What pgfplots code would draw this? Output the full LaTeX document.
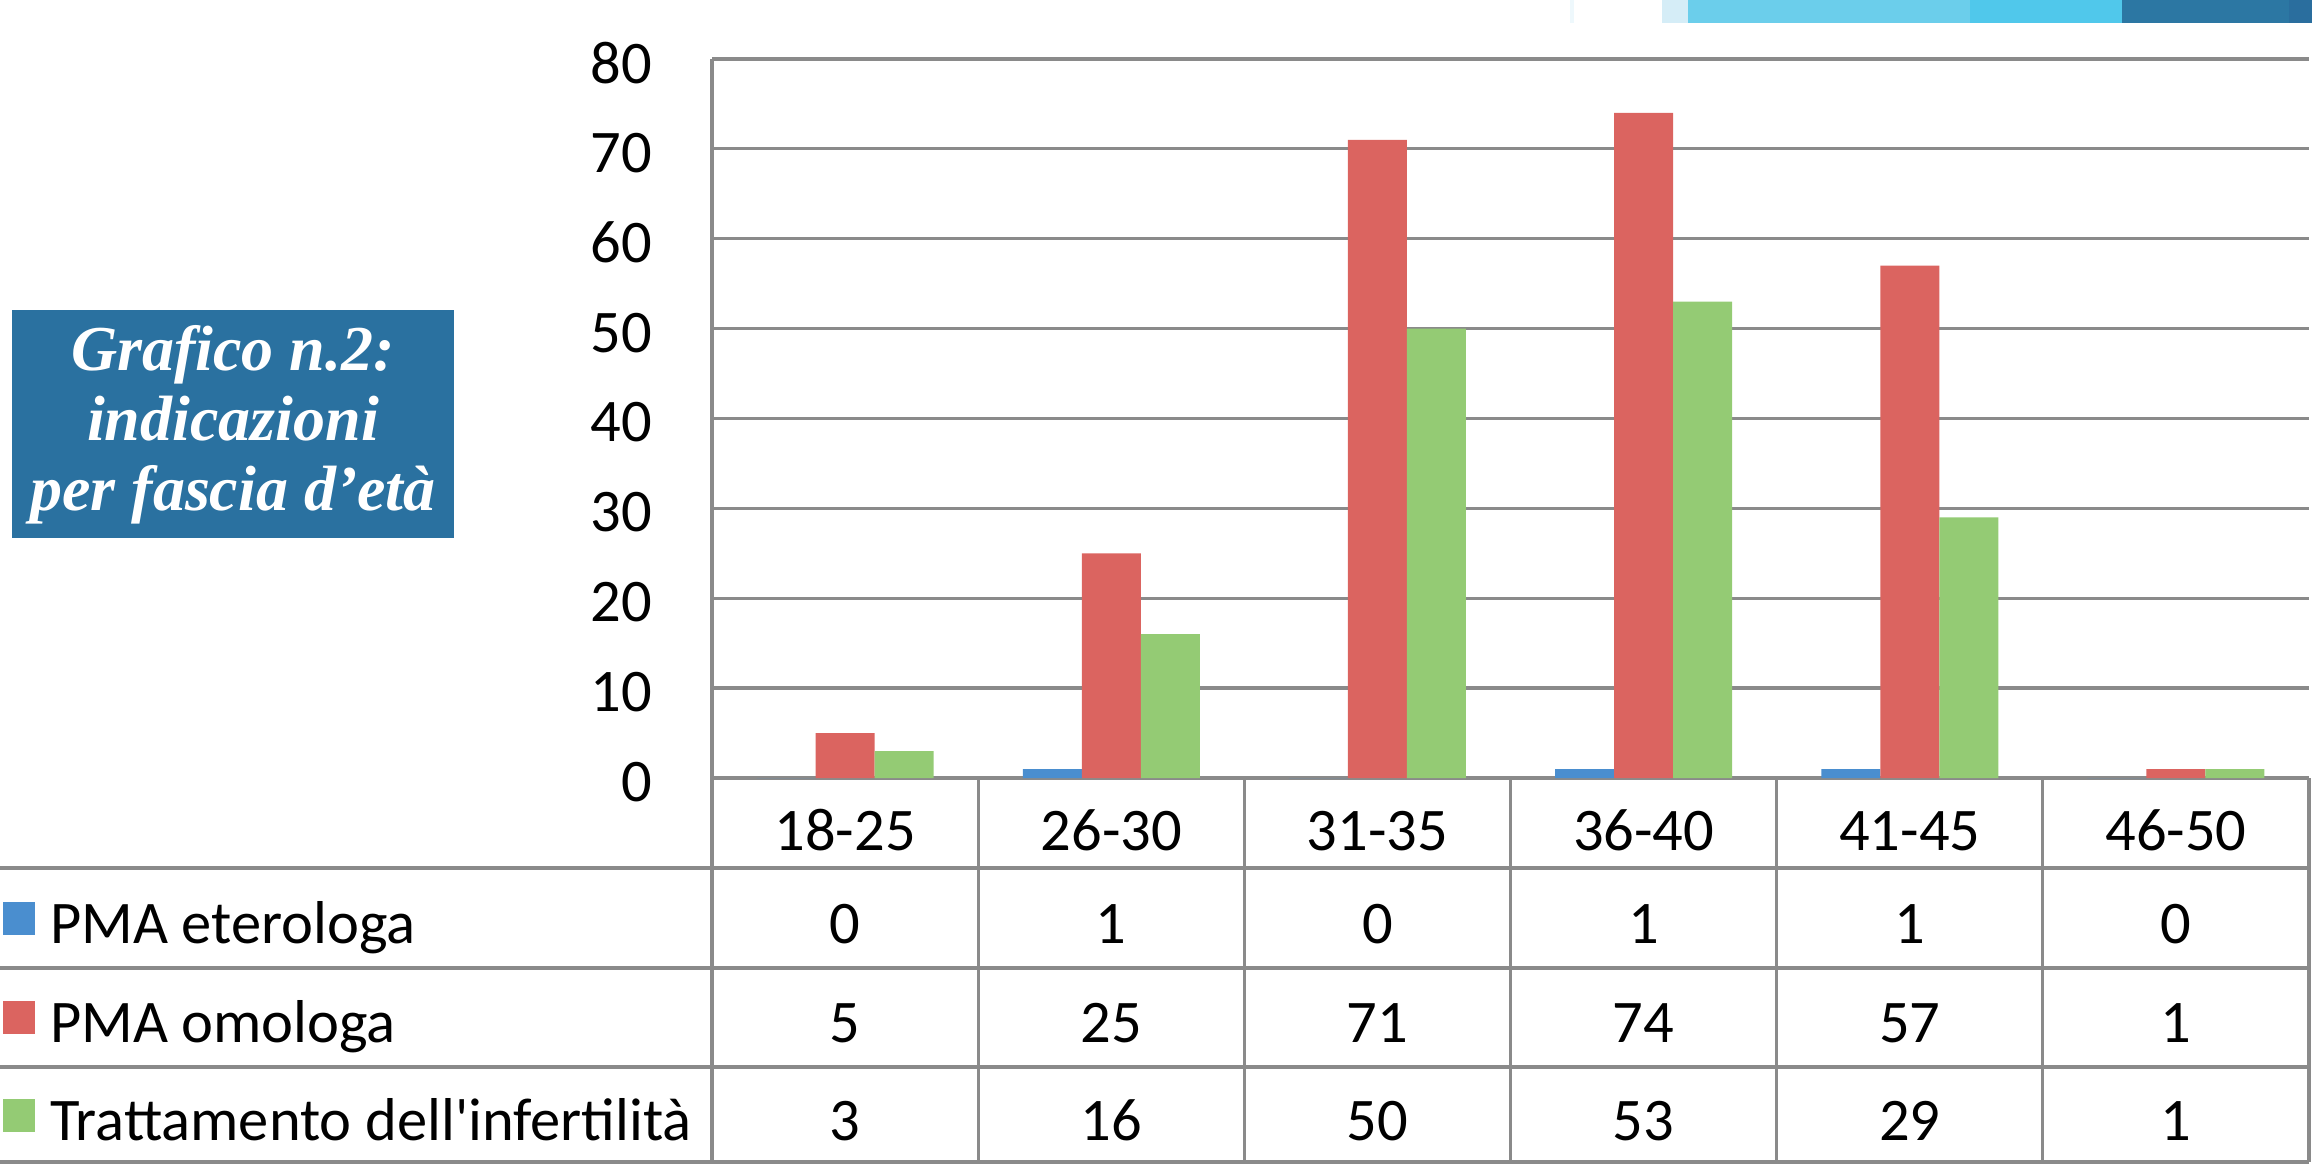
\documentclass[border=0pt]{standalone}
\usepackage{pgfplots}
\pgfplotsset{compat=1.18}
\usepackage{pgfplotstable}
\usepackage{fontspec}
\setmainfont{Carlito}
\newfontfamily\titlefont{Liberation Serif}
\definecolor{cBlue}{HTML}{4A8ECF}
\definecolor{cRed}{HTML}{DB6460}
\definecolor{cGreen}{HTML}{94CB74}
\definecolor{cGrid}{HTML}{8A8A8A}
\definecolor{cBox}{HTML}{2A71A0}
\definecolor{bandA}{HTML}{D5EDF7}
\definecolor{bandB}{HTML}{6BCEEB}
\definecolor{bandC}{HTML}{50C8EB}
\definecolor{bandD}{HTML}{2C77A3}
\definecolor{bandE}{HTML}{2A6E9E}

\pgfplotstableread{
x cat eter omo tratt
0 18-25 0 5 3
1 26-30 1 25 16
2 31-35 0 71 50
3 36-40 1 74 53
4 41-45 1 57 29
5 46-50 0 1 1
}\datatable

\begin{document}
\begin{tikzpicture}[x=0.2pt,y=0.2pt]
\path[use as bounding box] (0,0) rectangle (2312,1165);
% decorative band top right
\fill[bandA!40] (1570,1142) rectangle (1574,1165);
\fill[bandA] (1662,1142) rectangle (1688,1165);
\fill[bandB] (1688,1142) rectangle (1970,1165);
\fill[bandC] (1970,1142) rectangle (2122,1165);
\fill[bandD] (2122,1142) rectangle (2289,1165);
\fill[bandE] (2289,1142) rectangle (2312,1165);
% title box
\fill[cBox] (12,627) rectangle (454,855);
\begin{scope}[every node/.style={anchor=base, inner sep=0pt, text=white, font=\titlefont\bfseries\itshape\fontsize{12.8}{14}\selectfont}]
\node at (233,795) {Grafico n.2:};
\node at (233,725) {indicazioni};
\node at (233,655) {per fascia d’età};
\end{scope}

\begin{axis}[
  at={(142.4pt,77.4pt)}, anchor=south west,
  scale only axis, width=319.4pt, height=143.8pt,
  xmin=-0.5, xmax=5.5, ymin=0, ymax=80,
  ytick={0,10,...,80},
  xtick={0,...,5},
  xticklabels={18-25,26-30,31-35,36-40,41-45,46-50},
  major tick length=0pt,
  ybar=0pt, bar width=11.8pt,
  axis x line=bottom, axis y line=left,
  axis line style={-, draw=cGrid, line width=0.65pt},
  ymajorgrids, grid style={cGrid, line width=0.65pt},
  tick label style={font=\fontsize{12.1}{14}\selectfont},
  /pgf/number format/assume math mode=true,
  yticklabel style={anchor=east, inner sep=0pt, xshift=-11.8pt, yshift=-0.8pt},
  xticklabel style={anchor=base, inner sep=0pt, yshift=-14.4pt},
  clip=false,
]
\addplot[fill=cBlue, draw=none] table[x=x, y=eter]{\datatable};
\addplot[fill=cRed, draw=none] table[x=x, y=omo]{\datatable};
\addplot[fill=cGreen, draw=none] table[x=x, y=tratt]{\datatable};
\end{axis}

% data table grid
\begin{scope}[cGrid, line width=0.65pt]
\draw (0,297) -- (2309,297);
\draw (0,197) -- (2309,197);
\draw (0,98) -- (2309,98);
\draw (0,3) -- (2309,3);
\foreach \k in {0,...,6} \draw ({712+266.1667*\k},387) -- ({712+266.1667*\k},3);
\end{scope}

% legend keys and row labels
\fill[cBlue] (3,230) rectangle (35,263);
\fill[cRed] (3,131) rectangle (35,164);
\fill[cGreen] (3,33) rectangle (35,66);
\begin{scope}[every node/.style={anchor=base west, inner sep=0pt, font=\fontsize{12.1}{14}\selectfont}]
\node at (49,222) {PMA eterologa};
\node at (49,123) {PMA omologa};
\node at (49,25) {Trattamento dell\textquotesingle infertilità};
\end{scope}

% table values
\begin{scope}[every node/.style={anchor=base, inner sep=0pt, font=\fontsize{12.1}{14}\selectfont}]
\foreach \i in {0,...,5}{
  \pgfplotstablegetelem{\i}{eter}\of\datatable
  \node at ({712+266.1667*(\i+0.5)},222) {\pgfplotsretval};
  \pgfplotstablegetelem{\i}{omo}\of\datatable
  \node at ({712+266.1667*(\i+0.5)},123) {\pgfplotsretval};
  \pgfplotstablegetelem{\i}{tratt}\of\datatable
  \node at ({712+266.1667*(\i+0.5)},25) {\pgfplotsretval};
}
\end{scope}
\end{tikzpicture}
\end{document}
